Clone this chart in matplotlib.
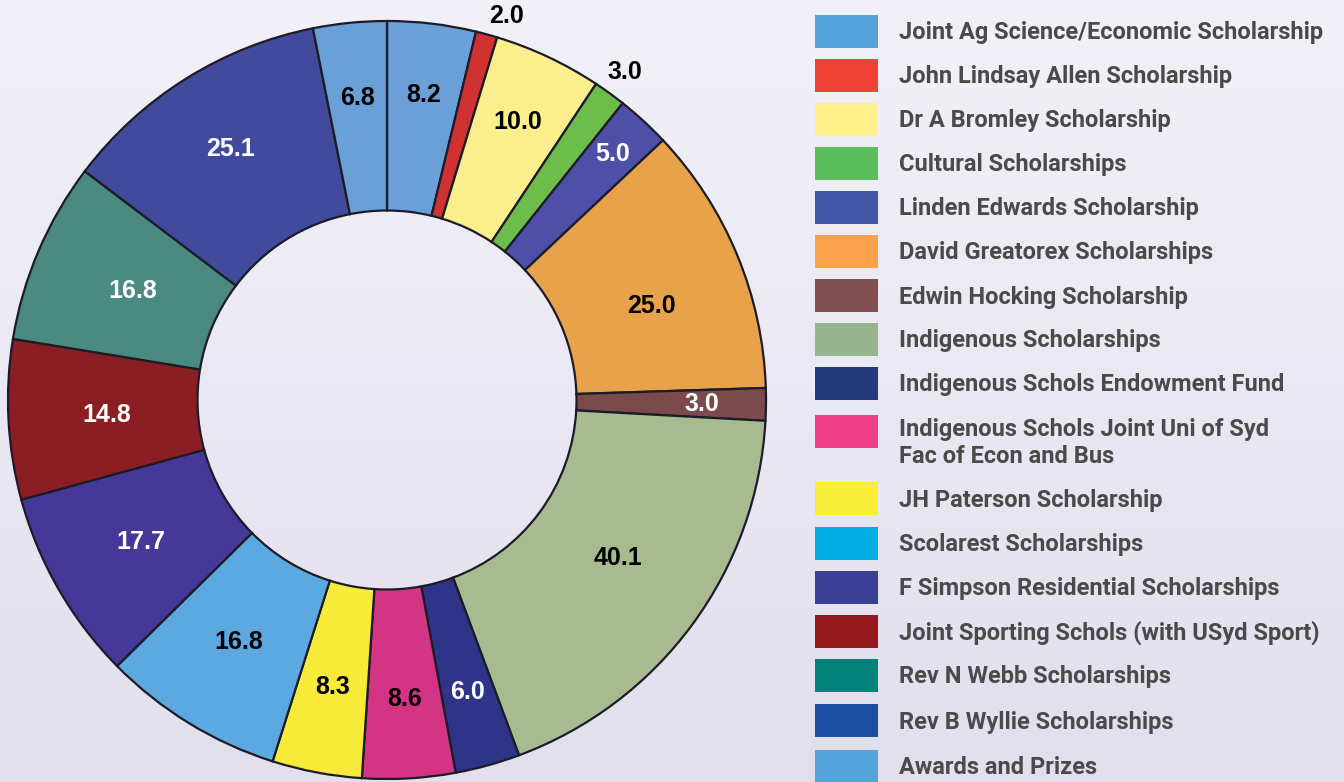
import matplotlib
matplotlib.use("Agg")
import matplotlib.pyplot as plt
import numpy as np
from matplotlib.patches import Rectangle
from matplotlib.colors import LinearSegmentedColormap

# ---- data ----
categories = [
    "Joint Ag Science/Economic Scholarship",
    "John Lindsay Allen Scholarship",
    "Dr A Bromley Scholarship",
    "Cultural Scholarships",
    "Linden Edwards Scholarship",
    "David Greatorex Scholarships",
    "Edwin Hocking Scholarship",
    "Indigenous Scholarships",
    "Indigenous Schols Endowment Fund",
    "Indigenous Schols Joint Uni of Syd\nFac of Econ and Bus",
    "JH Paterson Scholarship",
    "Scolarest Scholarships",
    "F Simpson Residential Scholarships",
    "Joint Sporting Schols (with USyd Sport)",
    "Rev N Webb Scholarships",
    "Rev B Wyllie Scholarships",
    "Awards and Prizes",
]
values = [8.2, 2.0, 10.0, 3.0, 5.0, 25.0, 3.0, 40.1, 6.0, 8.6, 8.3, 16.8, 17.7, 14.8, 16.8, 25.1, 6.8]

# ---- style ----
slice_colors = ["#6a9fd8", "#d03232", "#fbee8c", "#6cbd4c", "#4e50a8", "#e8a24a",
                "#7a4a4c", "#a8bb90", "#2e3488", "#d43484", "#f8ea38", "#5ca8e0",
                "#463898", "#8a1e22", "#4a8a80", "#424a9e", "#6aa0d8"]
legend_colors = ["#56a3dc", "#ef4136", "#fff18a", "#5cbd5c", "#4555a5", "#fba14b",
                 "#7f4f52", "#97b68f", "#253a7a", "#ee3f88", "#f9ed3c", "#00aee4",
                 "#3b3f96", "#96191e", "#00827b", "#1f4fa0", "#56a3dc"]
label_colors = ["black", "black", "black", "black", "white", "black", "white", "black",
                "white", "black", "black", "black", "white", "white", "white", "white", "black"]
label_radius = [0.81, 1.06, 0.81, 1.07, 0.88, 0.74, 0.83, 0.74, 0.80, 0.79, 0.77,
                0.75, 0.75, 0.74, 0.73, 0.78, 0.80]
label_dang = [0, -2.0, 0, 0, 0, -3.0, 0, 2.0, 0, 0, 0, 0, 0, 0, 0, 0, 0]  # degrees (ccw)

W, H = 1344, 782
fig = plt.figure(figsize=(W / 100, H / 100), dpi=100)

# background gradient
bg = fig.add_axes([0, 0, 1, 1])
grad = np.linspace(0, 1, 256).reshape(-1, 1)
cmap = LinearSegmentedColormap.from_list("bg", ["#f2f1f7", "#e2dfed"])
bg.imshow(grad, aspect="auto", cmap=cmap, extent=[0, 1, 0, 1], origin="upper")
bg.set_xlim(0, 1); bg.set_ylim(0, 1)
bg.axis("off")

# donut
cx, cy, R = 387, 782 - 400, 379
ax = fig.add_axes([(cx - R) / W, (cy - R) / H, 2 * R / W, 2 * R / H])
ax.set_facecolor("none")
wedges, _ = ax.pie(values, colors=slice_colors, startangle=90, counterclock=False,
                   radius=1.0,
                   wedgeprops=dict(width=0.50, edgecolor="#1c1c28", linewidth=1.6))
ax.set_xlim(-1, 1); ax.set_ylim(-1, 1)
ax.set_aspect("equal")
ax.axis("off")

for w, v, c, r, da in zip(wedges, values, label_colors, label_radius, label_dang):
    ang = np.deg2rad((w.theta1 + w.theta2) / 2 + da)
    ax.text(r * np.cos(ang), r * np.sin(ang), f"{v:.1f}", ha="center", va="center",
            fontsize=18, fontweight="bold", color=c, family="Liberation Sans")

# legend
sw_x, sw_w, sw_h = 815, 63, 33
row_y = [31, 75, 119, 163, 207, 251, 295, 339, 383, 431, 498, 543, 587, 631, 675, 720, 766]
text_y = [33, 77, 121, 165, 209, 253, 297, 341, 385, 443, 500, 545, 589, 633, 677, 722, 768]
for lab, col, ry, ty in zip(categories, legend_colors, row_y, text_y):
    fig.patches.append(Rectangle((sw_x / W, (H - ry - sw_h / 2) / H), sw_w / W, sw_h / H,
                                 transform=fig.transFigure, facecolor=col, edgecolor="none"))
    fig.text(899 / W, (H - ty) / H, lab, ha="left", va="center", fontsize=17,
             fontweight="bold", color="#4a4a4a", family="Roboto", linespacing=1.2)

fig.savefig("out.png", dpi=100)
